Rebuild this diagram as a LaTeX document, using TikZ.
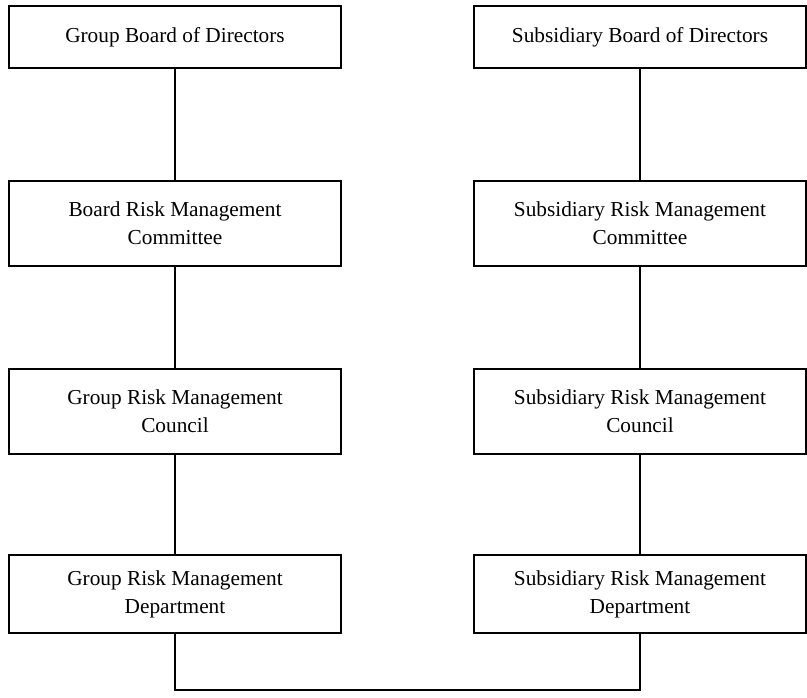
\documentclass[tikz,border=0pt]{standalone}
\usepackage{fontspec}
\setmainfont{Liberation Serif}
\begin{document}
\begin{tikzpicture}[x=1pt,y=1pt,
  orgbox/.style={draw, line width=1.4pt, minimum width=332pt, inner sep=0pt,
    align=center, font=\fontsize{21.3}{28}\selectfont},
  link/.style={line width=1.4pt}]
\useasboundingbox (0,0) rectangle (807,698);

% Group column
\node[orgbox, minimum height=62pt] (g1) at (175,661) {Group Board of Directors};
\node[orgbox, minimum height=85pt] (g2) at (175,474.5) {Board Risk Management\\Committee};
\node[orgbox, minimum height=85pt] (g3) at (175,286.5) {Group Risk Management\\Council};
\node[orgbox, minimum height=78pt] (g4) at (175,104) {Group Risk Management\\Department};

% Subsidiary column
\node[orgbox, minimum height=62pt] (s1) at (640,661) {Subsidiary Board of Directors};
\node[orgbox, minimum height=85pt] (s2) at (640,474.5) {Subsidiary Risk Management\\Committee};
\node[orgbox, minimum height=85pt] (s3) at (640,286.5) {Subsidiary Risk Management\\Council};
\node[orgbox, minimum height=78pt] (s4) at (640,104) {Subsidiary Risk Management\\Department};

% Vertical chains
\draw[link] (g1) -- (g2);
\draw[link] (g2) -- (g3);
\draw[link] (g3) -- (g4);
\draw[link] (s1) -- (s2);
\draw[link] (s2) -- (s3);
\draw[link] (s3) -- (s4);

% Bottom link joining the two departments
\coordinate (jl) at (175,8);
\coordinate (jr) at (640,8);
\draw[link] (g4.south) -- (jl) -- (jr) -- (s4.south);
\end{tikzpicture}
\end{document}
